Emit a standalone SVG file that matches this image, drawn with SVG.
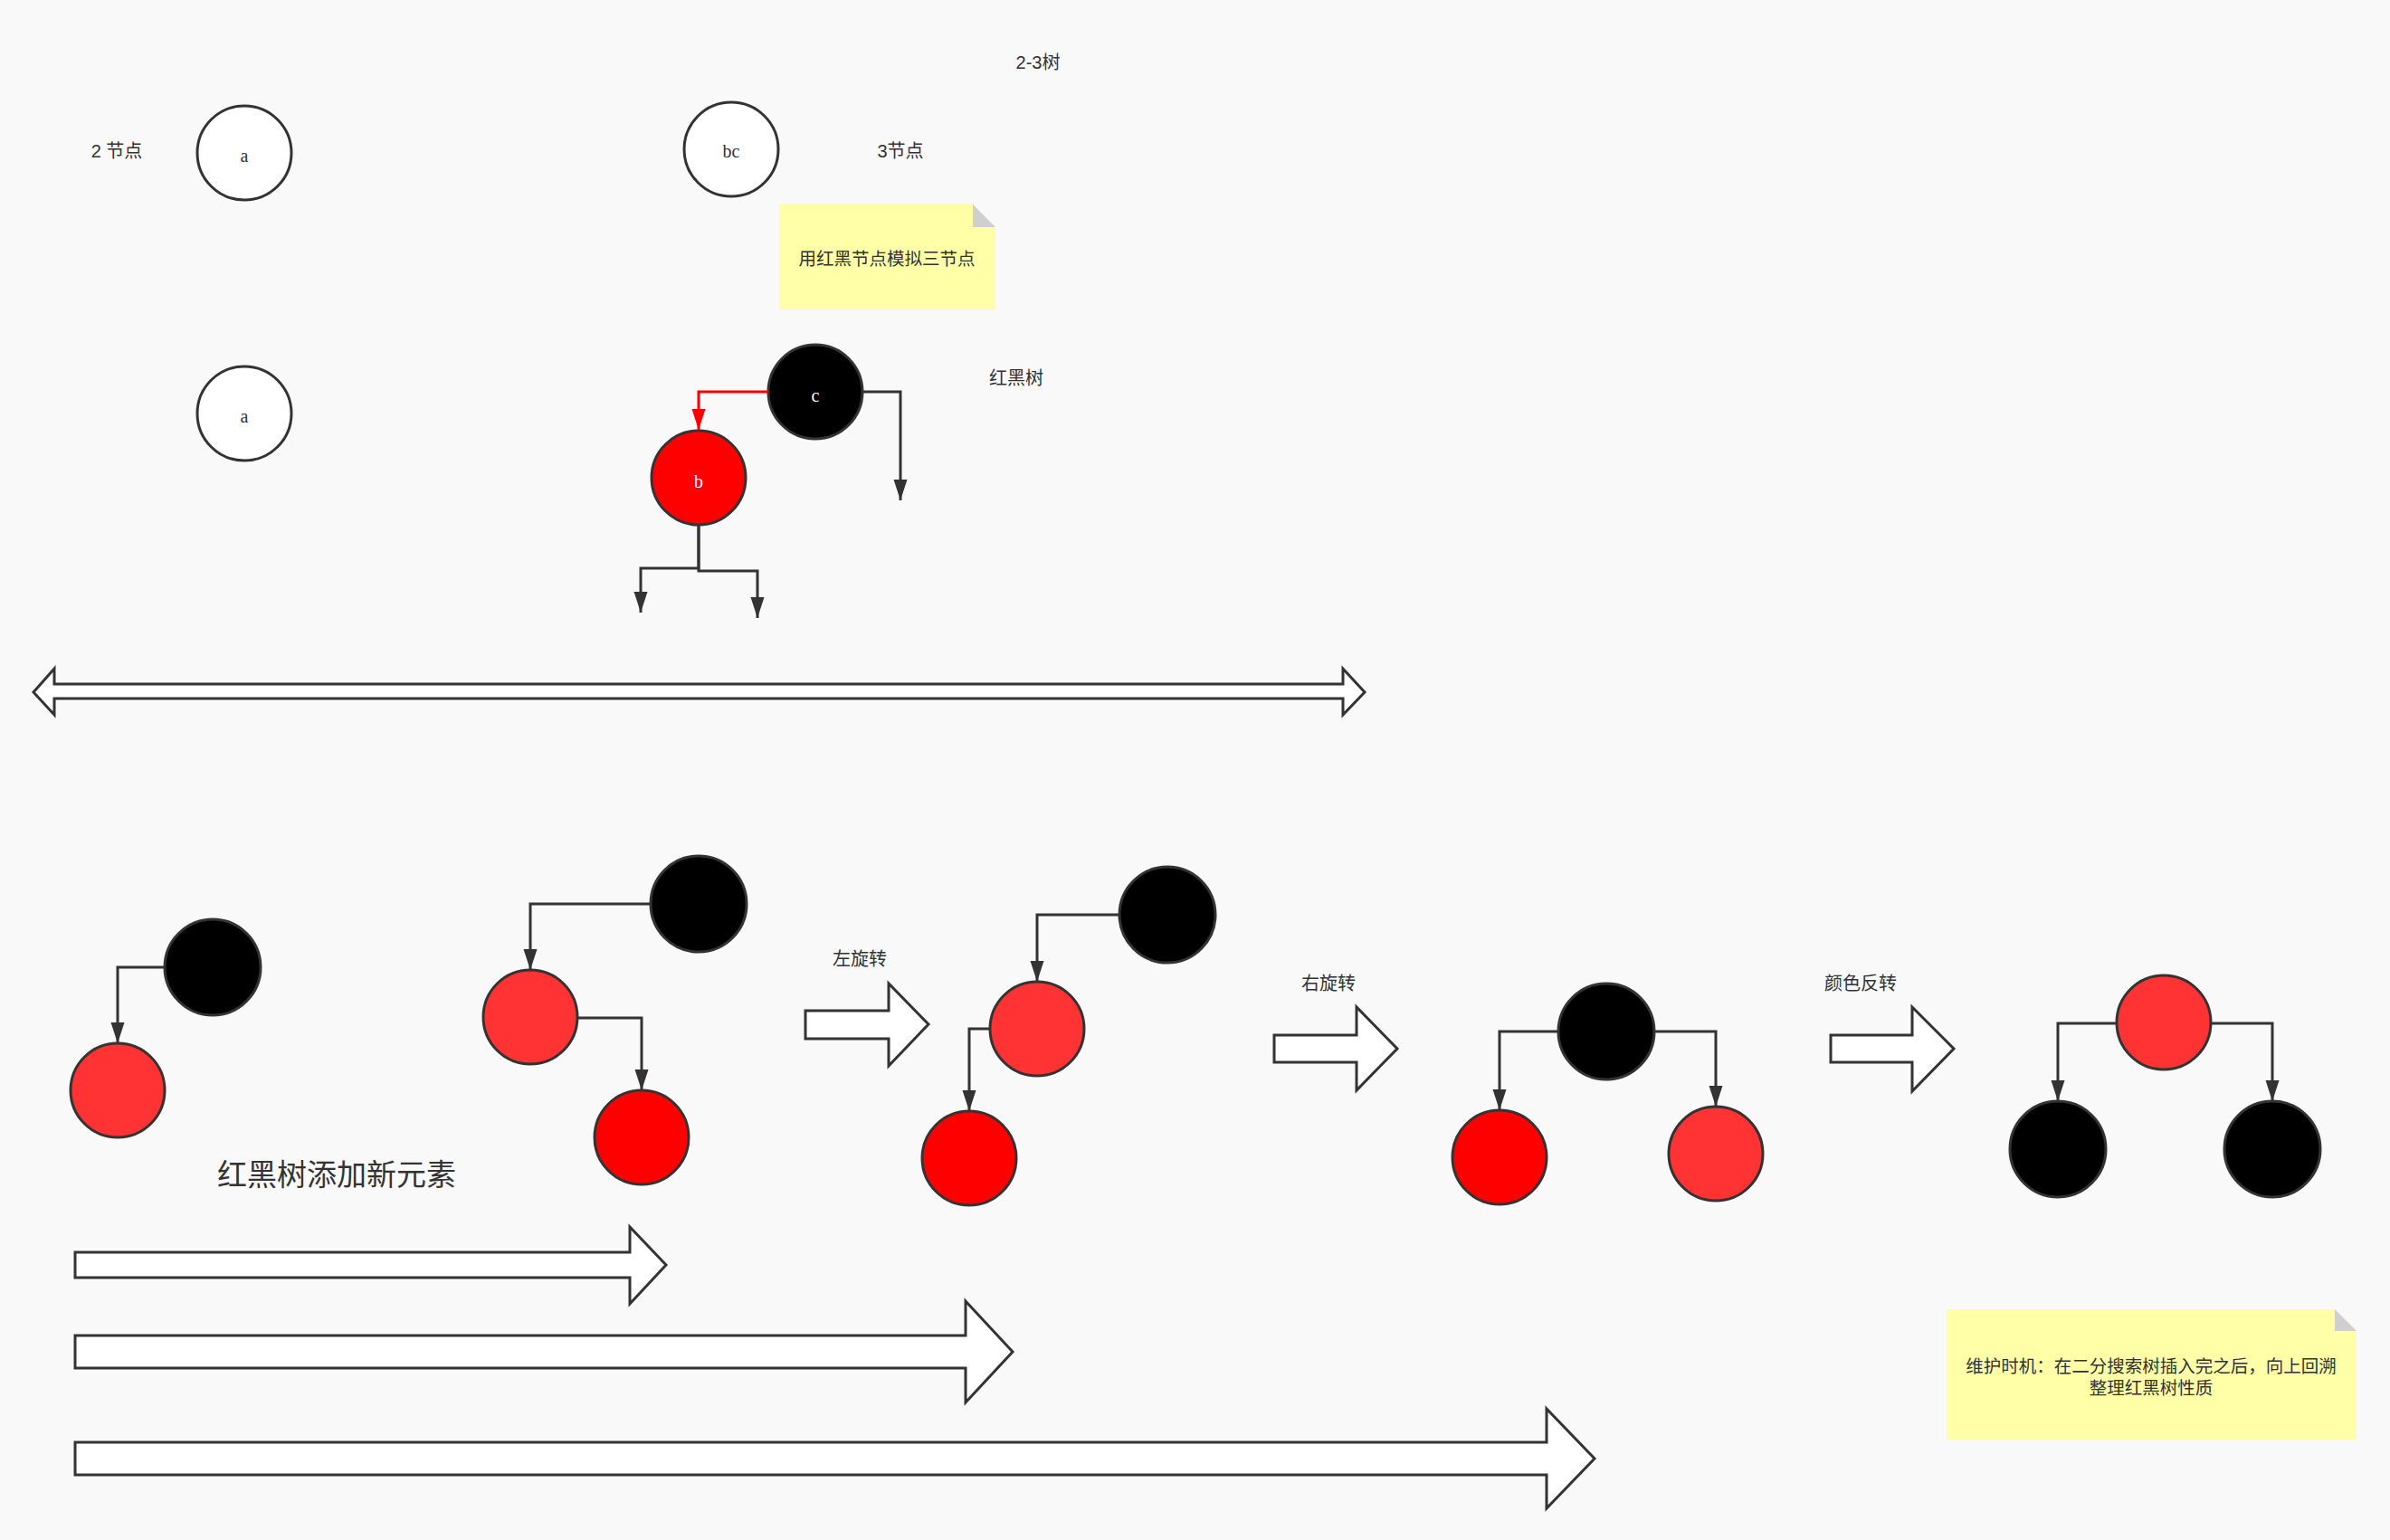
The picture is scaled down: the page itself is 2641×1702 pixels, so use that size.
<svg xmlns="http://www.w3.org/2000/svg" width="2641" height="1702" viewBox="0 0 2641 1702">
  <style>
    .lbl { font-family: "Liberation Sans", "Noto Sans CJK SC", sans-serif; font-size: 20px; fill: #333333; text-anchor: middle; dominant-baseline: central; }
    .big { font-size: 33px; }
    .small { font-size: 19.5px; }
    .key { font-family: "Liberation Serif", serif; font-size: 20px; text-anchor: middle; dominant-baseline: central; }
    .node { stroke: #333333; stroke-width: 3; }
    .white { fill: #ffffff; }
    .black { fill: #000000; }
    .red { fill: #ff0000; }
    .pink { fill: #ff3333; }
    .edge { fill: none; stroke: #333333; stroke-width: 3; marker-end: url(#head); }
    .edge-red { fill: none; stroke: #ff0000; stroke-width: 3; marker-end: url(#head-red); }
    .block { fill: #ffffff; stroke: #333333; stroke-width: 3; stroke-linejoin: miter; }
    .note { fill: #ffffa8; }
    .fold { fill: #cfcfcf; }
  </style>
  <defs>
    <marker id="head" markerUnits="userSpaceOnUse" markerWidth="24" markerHeight="16" refX="23" refY="8" orient="auto">
      <path d="M0,0.5 L23,8 L0,15.5 Z" fill="#333333"/>
    </marker>
    <marker id="head-red" markerUnits="userSpaceOnUse" markerWidth="24" markerHeight="16" refX="23" refY="8" orient="auto">
      <path d="M0,0.5 L23,8 L0,15.5 Z" fill="#ff0000"/>
    </marker>
  </defs>

  <rect x="0" y="0" width="2641" height="1702" fill="#f9f9f9"/>

  <!-- titles and labels -->
  <g id="labels">
    <text class="lbl" x="1147" y="69">2-3树</text>
    <text class="lbl" x="129" y="167">2 节点</text>
    <text class="lbl" x="995" y="167">3节点</text>
    <text class="lbl" x="1123" y="418">红黑树</text>
    <text class="lbl" x="950" y="1060">左旋转</text>
    <text class="lbl" x="1468" y="1087">右旋转</text>
    <text class="lbl" x="2056" y="1087">颜色反转</text>
    <text class="lbl big" x="372" y="1298">红黑树添加新元素</text>
  </g>

  <!-- 2-3 tree nodes -->
  <g id="node-a-23">
    <circle class="node white" cx="270" cy="169" r="52"/>
    <text class="key" x="270" y="172" fill="#333333">a</text>
  </g>
  <g id="node-bc">
    <circle class="node white" cx="808" cy="165" r="52"/>
    <text class="key" x="808" y="167" fill="#333333">bc</text>
  </g>
  <g id="note-simulate">
    <path class="note" d="M861,226 H1075 L1100,251 V342 H861 Z"/>
    <path class="fold" d="M1075,226 L1100,251 H1075 Z"/>
    <text class="lbl small" x="980" y="286">用红黑节点模拟三节点</text>
  </g>

  <!-- red-black equivalents -->
  <g id="node-a-rb">
    <circle class="node white" cx="270" cy="457" r="52"/>
    <text class="key" x="270" y="460" fill="#333333">a</text>
  </g>
  <g id="node-c">
    <circle class="node black" cx="901" cy="433" r="52"/>
    <text class="key" x="901" y="437" fill="#ffffff">c</text>
  </g>
  <g id="node-b">
    <circle class="node red" cx="772" cy="528" r="52"/>
    <text class="key" x="772" y="532" fill="#ffffff">b</text>
  </g>

  <!-- equivalence arrow -->
  <g id="double-arrow">
    <polygon class="block" points="37,765 60,739 60,756 1484,756 1484,739 1508,765 1484,790 1484,772 60,772 60,790"/>
  </g>

  <!-- insertion step 1 -->
  <g id="t1-black"><circle class="node black" cx="235" cy="1069" r="53"/></g>
  <g id="t1-red"><circle class="node pink" cx="130" cy="1205" r="52"/></g>

  <!-- insertion step 2 -->
  <g id="t2-black"><circle class="node black" cx="772" cy="999" r="53"/></g>
  <g id="t2-red1"><circle class="node pink" cx="586" cy="1124" r="52"/></g>
  <g id="t2-red2"><circle class="node red" cx="709" cy="1257" r="52"/></g>

  <!-- after left rotation -->
  <g id="t3-black"><circle class="node black" cx="1290" cy="1011" r="53"/></g>
  <g id="t3-red1"><circle class="node pink" cx="1146" cy="1137" r="52"/></g>
  <g id="t3-red2"><circle class="node red" cx="1071" cy="1280" r="52"/></g>

  <!-- after right rotation -->
  <g id="t4-black"><circle class="node black" cx="1775" cy="1140" r="53"/></g>
  <g id="t4-red-left"><circle class="node red" cx="1657" cy="1279" r="52"/></g>
  <g id="t4-red-right"><circle class="node pink" cx="1896" cy="1275" r="52"/></g>

  <!-- after colour flip -->
  <g id="t5-red"><circle class="node pink" cx="2391" cy="1130" r="52"/></g>
  <g id="t5-black-left"><circle class="node black" cx="2274" cy="1270" r="53"/></g>
  <g id="t5-black-right"><circle class="node black" cx="2511" cy="1270" r="53"/></g>

  <!-- step arrows -->
  <g id="arrow-left-rotate">
    <polygon class="block" points="890,1117 982,1117 982,1087 1026,1132 982,1178 982,1148 890,1148"/>
  </g>
  <g id="arrow-right-rotate">
    <polygon class="block" points="1408,1144 1499,1144 1499,1113 1544,1159 1499,1205 1499,1174 1408,1174"/>
  </g>
  <g id="arrow-flip">
    <polygon class="block" points="2023,1144 2113,1144 2113,1113 2159,1159 2113,1206 2113,1174 2023,1174"/>
  </g>

  <!-- progress arrows -->
  <g id="progress-1">
    <polygon class="block" points="83,1384 696,1384 696,1356 736,1398 696,1441 696,1412 83,1412"/>
  </g>
  <g id="progress-2">
    <polygon class="block" points="83,1476 1067,1476 1067,1438 1119,1494 1067,1550 1067,1512 83,1512"/>
  </g>
  <g id="progress-3">
    <polygon class="block" points="83,1594 1709,1594 1709,1557 1762,1612 1709,1667 1709,1630 83,1630"/>
  </g>

  <g id="note-maintain">
    <path class="note" d="M2151,1447 H2580 L2604,1471 V1591 H2151 Z"/>
    <path class="fold" d="M2580,1447 L2604,1471 H2580 Z"/>
    <text class="lbl small" x="2377" y="1510">维护时机：在二分搜索树插入完之后，向上回溯</text>
    <text class="lbl small" x="2377" y="1534">整理红黑树性质</text>
  </g>

  <!-- connectors -->
  <g id="connectors">
    <path class="edge-red" d="M849,433 H772 V475"/>
    <path class="edge" d="M953,433 H995 V553"/>
    <path class="edge" d="M772,580 V628 H708 V677"/>
    <path class="edge" d="M772,580 V631 H837 V683"/>

    <path class="edge" d="M182,1069 H130 V1153"/>

    <path class="edge" d="M719,999 H586 V1072"/>
    <path class="edge" d="M638,1125 H709 V1205"/>

    <path class="edge" d="M1237,1011 H1146 V1085"/>
    <path class="edge" d="M1094,1137 H1071 V1228"/>

    <path class="edge" d="M1722,1140 H1657 V1227"/>
    <path class="edge" d="M1828,1140 H1896 V1223"/>

    <path class="edge" d="M2339,1131 H2274 V1217"/>
    <path class="edge" d="M2443,1131 H2511 V1217"/>
  </g>
</svg>
